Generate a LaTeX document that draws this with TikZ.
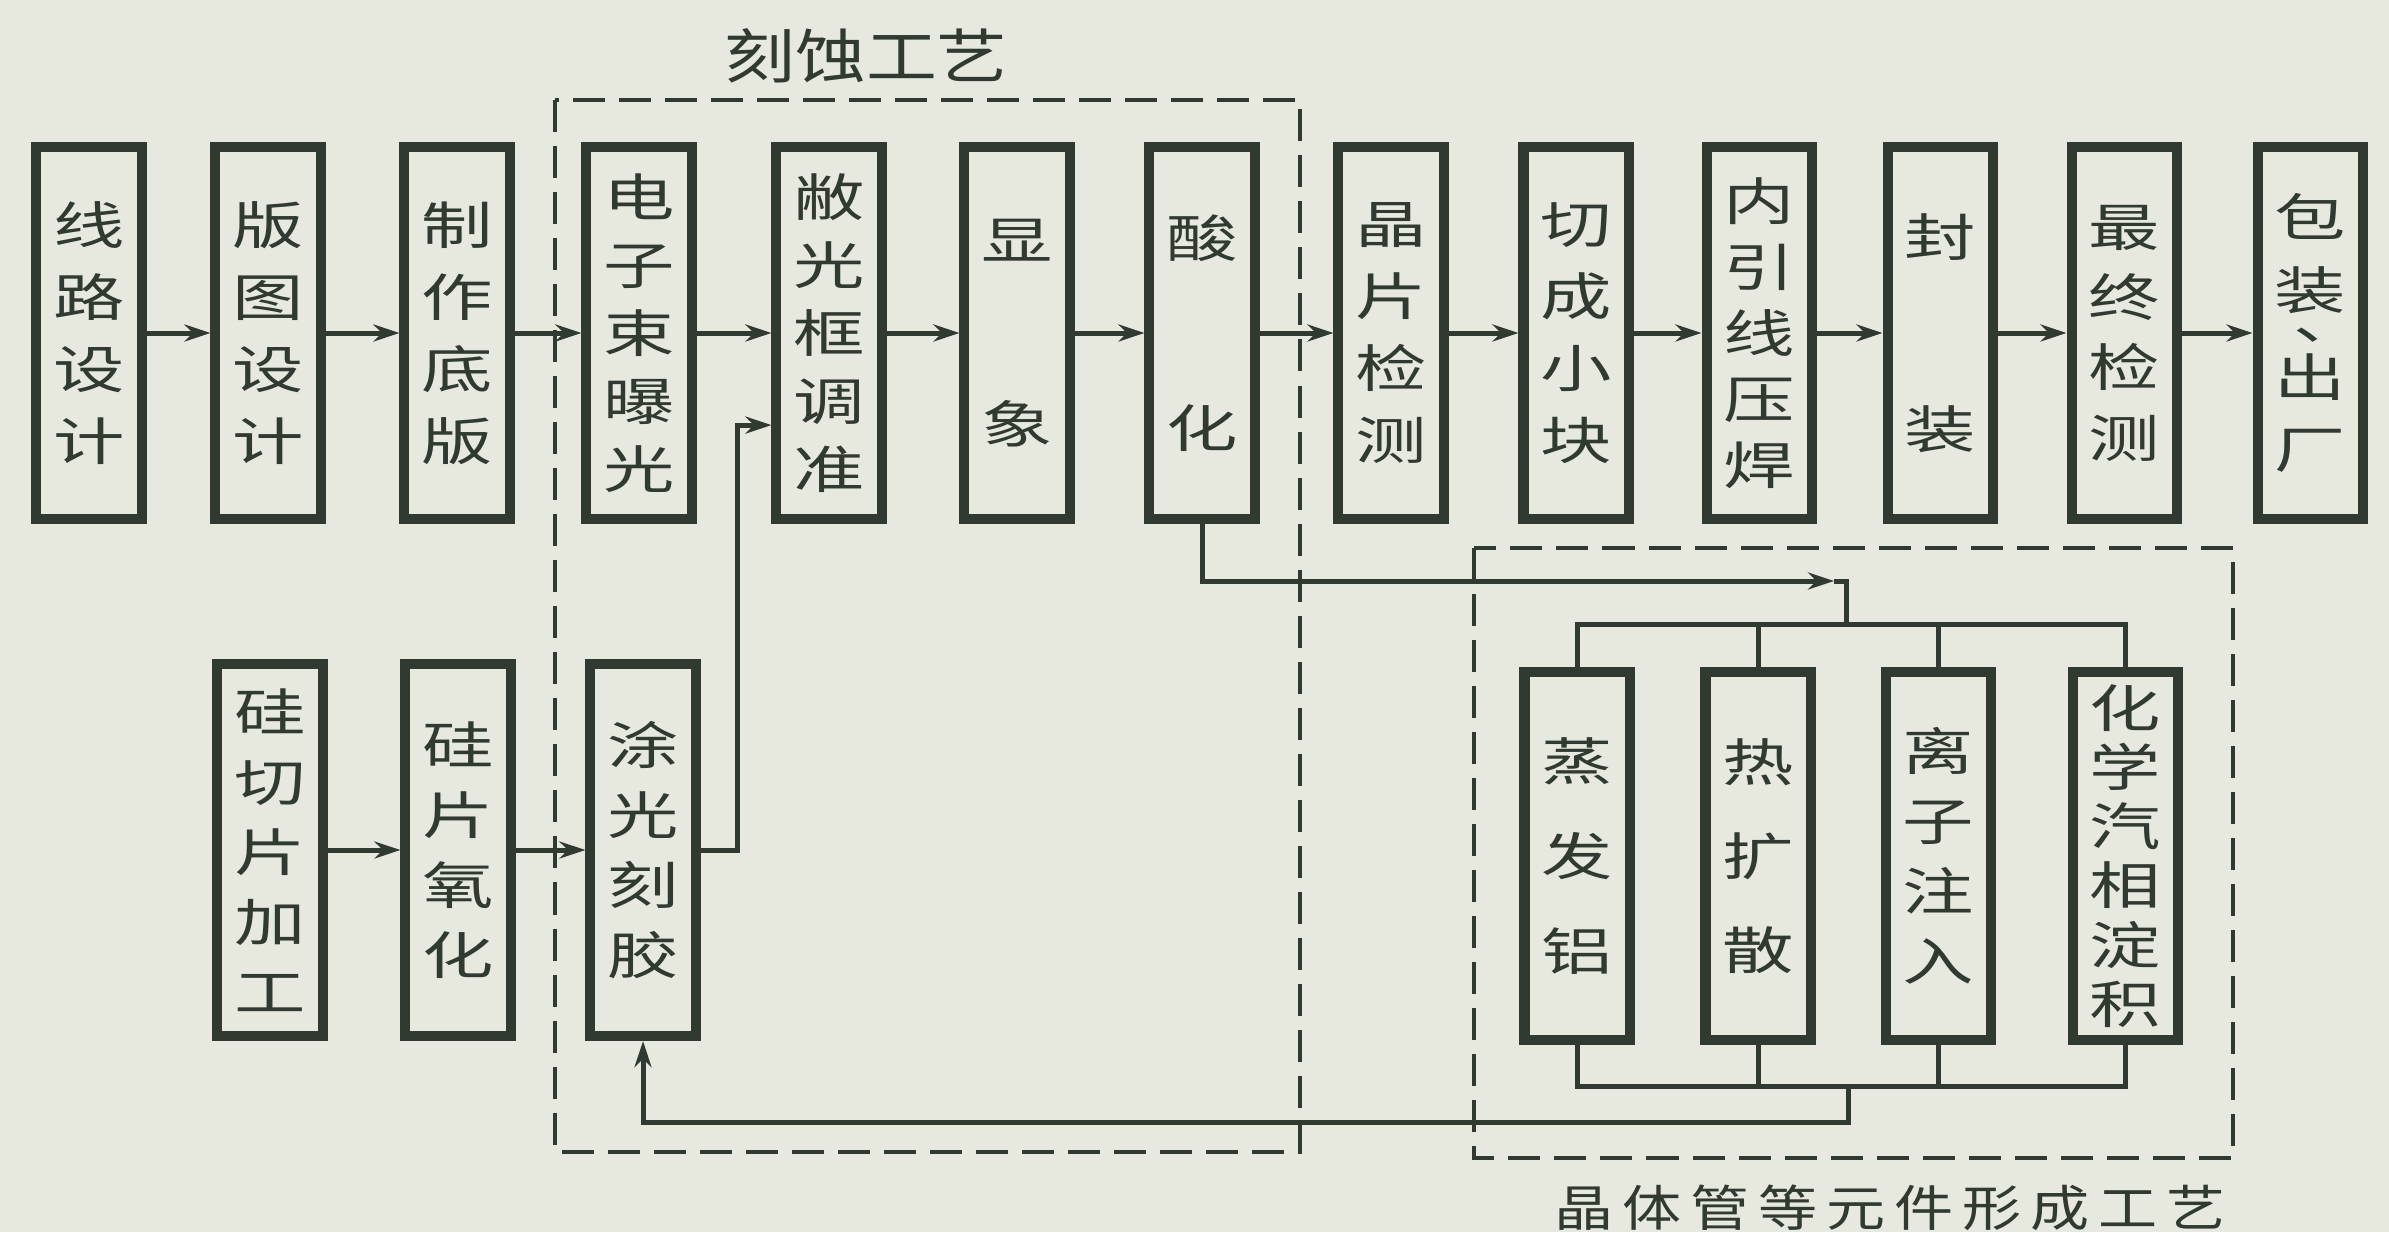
\documentclass[tikz,border=0pt]{standalone}
\usepackage{fontspec}
\usetikzlibrary{arrows.meta}
\newfontfamily\cjkbox[FakeStretch=1.4]{Noto Sans CJK SC}
\newfontfamily\cjklbl[FakeStretch=1.2]{Noto Sans CJK SC}
\newfontfamily\cjklblsp[FakeStretch=1.2,LetterSpace=18]{Noto Sans CJK SC}
\newcommand\boxtxt[1]{\cjkbox\fontsize{14.5pt}{#1pt}\selectfont}
\definecolor{ink}{RGB}{48,58,48}
\definecolor{paper}{RGB}{231,232,222}
\begin{document}
\begin{tikzpicture}[x=0.01cm,y=-0.01cm,
  bx/.style={draw=ink, line width=0.1cm, minimum width=1.05cm, minimum height=3.72cm, inner sep=0pt, align=center, text=ink},
  pitch/.style={font=\boxtxt{#1}},
  conn/.style={draw=ink, line width=0.05cm},
  arr/.style={conn, -{Stealth[length=0.26cm,width=0.17cm]}},
  dashbox/.style={draw=ink, line width=0.045cm, dash pattern=on 0.32cm off 0.14cm},
  lbl/.style={text=ink, inner sep=0pt}]
\fill[paper] (0,0) rectangle (2389,1232);
\useasboundingbox (0,0) rectangle (2389,1232);

% dashed groups
\draw[dashbox] (555,100) rectangle (1300,1152);
\draw[dashbox] (1474,548) rectangle (2233,1158);
\node[lbl, font=\cjklbl\fontsize{16.8pt}{20pt}\selectfont] (lab1) at (866,56) {刻蚀工艺};
\node[lbl, font=\cjklblsp\fontsize{14pt}{16pt}\selectfont] (lab2) at (1890,1208) {晶体管等元件形成工艺};

% top row
\node[bx,pitch=20.5] (n1) at (89,333) {线\\路\\设\\计};
\node[bx,pitch=20.5] (n2) at (268,333) {版\\图\\设\\计};
\node[bx,pitch=20.5] (n3) at (457,333) {制\\作\\底\\版};
\node[bx,pitch=19.35] (n4) at (639,333) {电\\子\\束\\曝\\光};
\node[bx,pitch=19.35] (n5) at (829,333) {敝\\光\\框\\调\\准};
\node[bx,pitch=52.3] (n6) at (1017,333) {显\\象};
\node[bx,pitch=54] (n7) at (1202,333) {酸\\化};
\node[bx,pitch=20.5] (n8) at (1391,333) {晶\\片\\检\\测};
\node[bx,pitch=20.5] (n9) at (1576,333) {切\\成\\小\\块};
\node[bx,pitch=18.8] (n10) at (1759,333) {内\\引\\线\\压\\焊};
\node[bx,pitch=54.6] (n11) at (1940,333) {封\\装};
\node[bx,pitch=20] (n12) at (2124,333) {最\\终\\检\\测};
\node[bx,pitch=20.5] (n13) at (2310,333) {包\\装\makebox[0pt][l]{\hspace{-0.52cm}\smash{\raisebox{-0.30cm}{、}}}\\[4.25pt]出\\厂};

% bottom left row
\node[bx,pitch=19.9] (b1) at (270,850) {硅\\切\\片\\加\\工};
\node[bx,pitch=19.9] (b2) at (458,850) {硅\\片\\氧\\化};
\node[bx,pitch=19.9] (b3) at (643,850) {涂\\光\\刻\\胶};

% bottom right row
\node[bx,pitch=27,minimum height=3.67cm] (r1) at (1577,856) {蒸\\发\\铝};
\node[bx,pitch=26.7,minimum height=3.67cm] (r2) at (1758,856) {热\\扩\\散};
\node[bx,pitch=19.9,minimum height=3.67cm] (r3) at (1938,856) {离\\子\\注\\入};
\node[bx,pitch=16.8,minimum height=3.67cm] (r4) at (2125,856) {化\\学\\汽\\相\\淀\\积};

% top row arrows
\draw[arr] (n1) -- (n2);
\draw[arr] (n2) -- (n3);
\draw[arr] (n3) -- (n4);
\draw[arr] (n4) -- (n5);
\draw[arr] (n5) -- (n6);
\draw[arr] (n6) -- (n7);
\draw[arr] (n7) -- (n8);
\draw[arr] (n8) -- (n9);
\draw[arr] (n9) -- (n10);
\draw[arr] (n10) -- (n11);
\draw[arr] (n11) -- (n12);
\draw[arr] (n12) -- (n13);

% bottom left arrows
\draw[arr] (b1) -- (b2);
\draw[arr] (b2) -- (b3);
\draw[arr] (b3.east) -- ++(37,0) |- ([yshift=-0.92cm]n5.west);

% from 酸化 to the component-forming group
\coordinate (tipA) at (1834,581);
\coordinate (cornerA) at (1846,581);
\coordinate (topbar) at (1846,624);
\draw[arr] (n7.south) |- (tipA);
\draw[conn] (tipA) -- (cornerA) -- (topbar);
\draw[conn] (r1.north) |- (topbar) -| (r4.north);
\draw[conn] (r2.north) -- (r2.north |- topbar);
\draw[conn] (r3.north) -- (r3.north |- topbar);

% return to 涂光刻胶
\coordinate (botbar) at (1848,1086);
\coordinate (retl) at (1848,1122);
\draw[conn] (r1.south) |- (botbar) -| (r4.south);
\draw[conn] (r2.south) -- (r2.south |- botbar);
\draw[conn] (r3.south) -- (r3.south |- botbar);
\draw[arr] (botbar) -- (retl) -| (b3.south);
\end{tikzpicture}
\end{document}
